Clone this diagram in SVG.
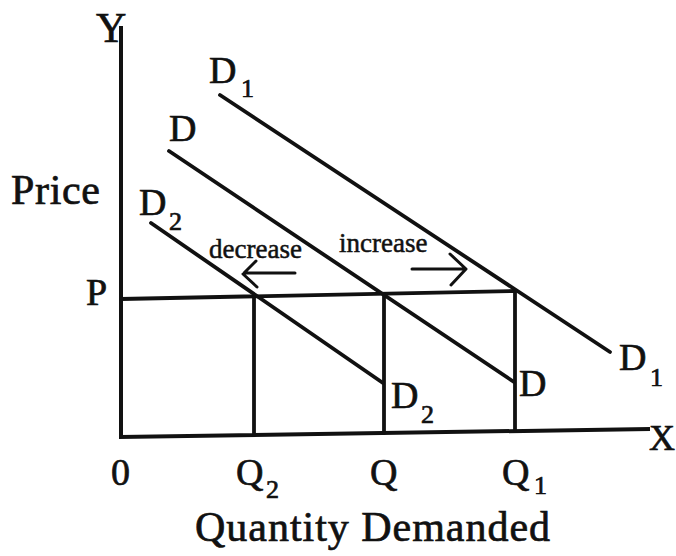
<svg xmlns="http://www.w3.org/2000/svg" width="676" height="556" viewBox="0 0 676 556">
<style>
.ax{stroke:#111;stroke-width:4;fill:none;stroke-linecap:square}
.ln{stroke:#111;stroke-width:3.8;fill:none;stroke-linecap:round}
.ar{stroke:#111;stroke-width:3;fill:none;stroke-linecap:round;stroke-linejoin:round}
text{font-family:"Liberation Serif","Times New Roman",serif;fill:#111;stroke:#111;stroke-width:0.7}
.big{font-size:42px}
.xl{font-size:36px}
.lbl{font-size:38px}
.sub{font-size:26px}
.sm{font-size:27px;stroke-width:0.5}
</style>
<rect width="676" height="556" fill="#fff"/>
<g id="connectors">
<path class="ax" d="M121,28 L121,437 L648,429"/>
<path class="ln" d="M121,299 L515,291"/>
<path class="ln" d="M254,297 L254,435"/>
<path class="ln" d="M384,294 L384,433"/>
<path class="ln" d="M515,291 L515,430"/>
<path class="ln" d="M220,95 L610,352"/>
<path class="ln" d="M169,151 L514,382"/>
<path class="ln" d="M151,223 L383,383"/>
<path class="ar" d="M295,273 L244,273 M256,261 L243,274 L257,287"/>
<path class="ar" d="M412,269 L465,269 M450,254 L466,269 L451,285"/>
</g>
<g id="axis-labels">
<text class="big" x="96" y="42">Y</text>
<text class="xl" x="649" y="450">X</text>
<text class="big" x="11" y="204" textLength="89">Price</text>
<text class="big" x="195" y="541" textLength="355">Quantity Demanded</text>
<text class="lbl" x="111" y="485">0</text>
<text class="lbl" x="86" y="305">P</text>
</g>
<g id="curve-D1">
<text class="lbl" x="209" y="83">D</text><text class="sub" x="241" y="97">1</text>
<text class="lbl" x="619" y="370">D</text><text class="sub" x="650" y="386">1</text>
</g>
<g id="curve-D">
<text class="lbl" x="169" y="141">D</text>
<text class="lbl" x="519" y="396">D</text>
</g>
<g id="curve-D2">
<text class="lbl" x="139" y="215">D</text><text class="sub" x="169" y="230">2</text>
<text class="lbl" x="391" y="408">D</text><text class="sub" x="421" y="423">2</text>
</g>
<g id="shift-labels">
<text class="sm" x="209" y="258">decrease</text>
<text class="sm" x="339" y="252">increase</text>
</g>
<g id="quantity-labels">
<text class="lbl" x="236" y="485">Q</text><text class="sub" x="266" y="498">2</text>
<text class="lbl" x="370" y="485">Q</text>
<text class="lbl" x="502" y="485">Q</text><text class="sub" x="534" y="494">1</text>
</g>
</svg>
